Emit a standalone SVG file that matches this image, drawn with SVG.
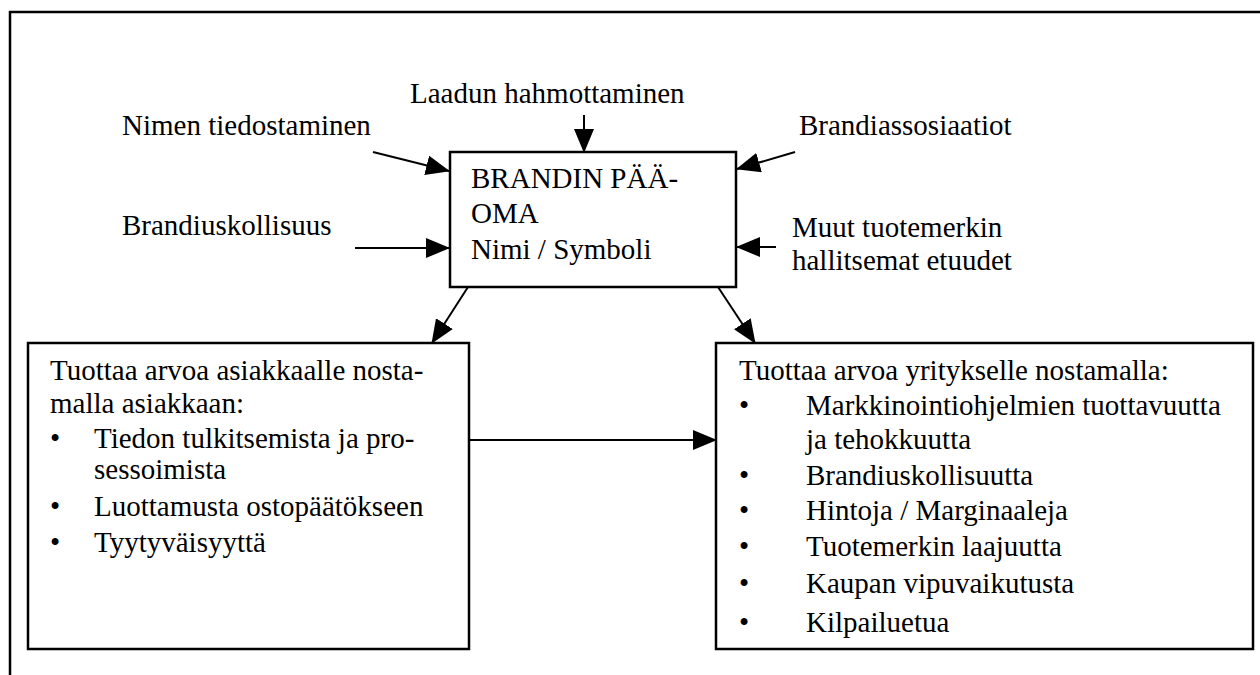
<svg xmlns="http://www.w3.org/2000/svg" width="1260" height="675" viewBox="0 0 1260 675">
<style>
text{font-family:"Liberation Serif","Times New Roman",Tinos,serif;font-size:29px;fill:#000}
.box{fill:#fff;stroke:#000;stroke-width:2.5}
.c{stroke:#000;stroke-width:2;fill:none;marker-end:url(#ah)}
.frame{stroke:#000;stroke-width:2.5;fill:none}
.b{text-anchor:middle}
</style>
<defs>
<marker id="ah" markerWidth="24" markerHeight="20" refX="23" refY="10" orient="auto" markerUnits="userSpaceOnUse">
<path d="M0,0 L24,10 L0,20 z" fill="#000"/>
</marker>
</defs>
<rect width="1260" height="675" fill="#fff"/>
<path class="frame" d="M10,675 V12 H1260"/>

<g id="labels">
<text x="410" y="103">Laadun hahmottaminen</text>
<text x="122" y="135">Nimen tiedostaminen</text>
<text x="799" y="135">Brandiassosiaatiot</text>
<text x="122" y="235">Brandiuskollisuus</text>
<text x="792" y="237">Muut tuotemerkin</text>
<text x="792" y="270">hallitsemat etuudet</text>
</g>

<g id="brand-equity">
<rect class="box" x="450" y="152" width="286" height="135"/>
<text x="471" y="188">BRANDIN PÄÄ-</text>
<text x="471" y="223">OMA</text>
<text x="471" y="259">Nimi / Symboli</text>
</g>

<g id="customer-value">
<rect class="box" x="28" y="343" width="441" height="306"/>
<text x="50" y="380">Tuottaa arvoa asiakkaalle nosta-</text>
<text x="50" y="413">malla asiakkaan:</text>
<text class="b" x="55" y="448">•</text>
<text x="94" y="448">Tiedon tulkitsemista ja pro-</text>
<text x="94" y="479">sessoimista</text>
<text class="b" x="55" y="516">•</text>
<text x="94" y="516">Luottamusta ostopäätökseen</text>
<text class="b" x="55" y="552">•</text>
<text x="94" y="552">Tyytyväisyyttä</text>
</g>

<g id="company-value">
<rect class="box" x="716" y="343" width="537" height="306"/>
<text x="739" y="380">Tuottaa arvoa yritykselle nostamalla:</text>
<text class="b" x="744" y="415">•</text>
<text x="806" y="415">Markkinointiohjelmien tuottavuutta</text>
<text x="806" y="449">ja tehokkuutta</text>
<text class="b" x="744" y="485">•</text>
<text x="806" y="485">Brandiuskollisuutta</text>
<text class="b" x="744" y="520">•</text>
<text x="806" y="520">Hintoja / Marginaaleja</text>
<text class="b" x="744" y="556">•</text>
<text x="806" y="556">Tuotemerkin laajuutta</text>
<text class="b" x="744" y="593">•</text>
<text x="806" y="593">Kaupan vipuvaikutusta</text>
<text class="b" x="744" y="632">•</text>
<text x="806" y="632">Kilpailuetua</text>
</g>

<g id="connectors">
<line class="c" x1="584" y1="115" x2="584" y2="152"/>
<line class="c" x1="373" y1="152" x2="449" y2="171"/>
<line class="c" x1="355" y1="248" x2="449" y2="248"/>
<line class="c" x1="795" y1="152" x2="737" y2="169"/>
<line class="c" x1="776" y1="247" x2="737" y2="247"/>
<line class="c" x1="468" y1="287" x2="432" y2="343"/>
<line class="c" x1="718" y1="287" x2="755" y2="343"/>
<line class="c" x1="469" y1="440" x2="716" y2="440"/>
</g>
</svg>
